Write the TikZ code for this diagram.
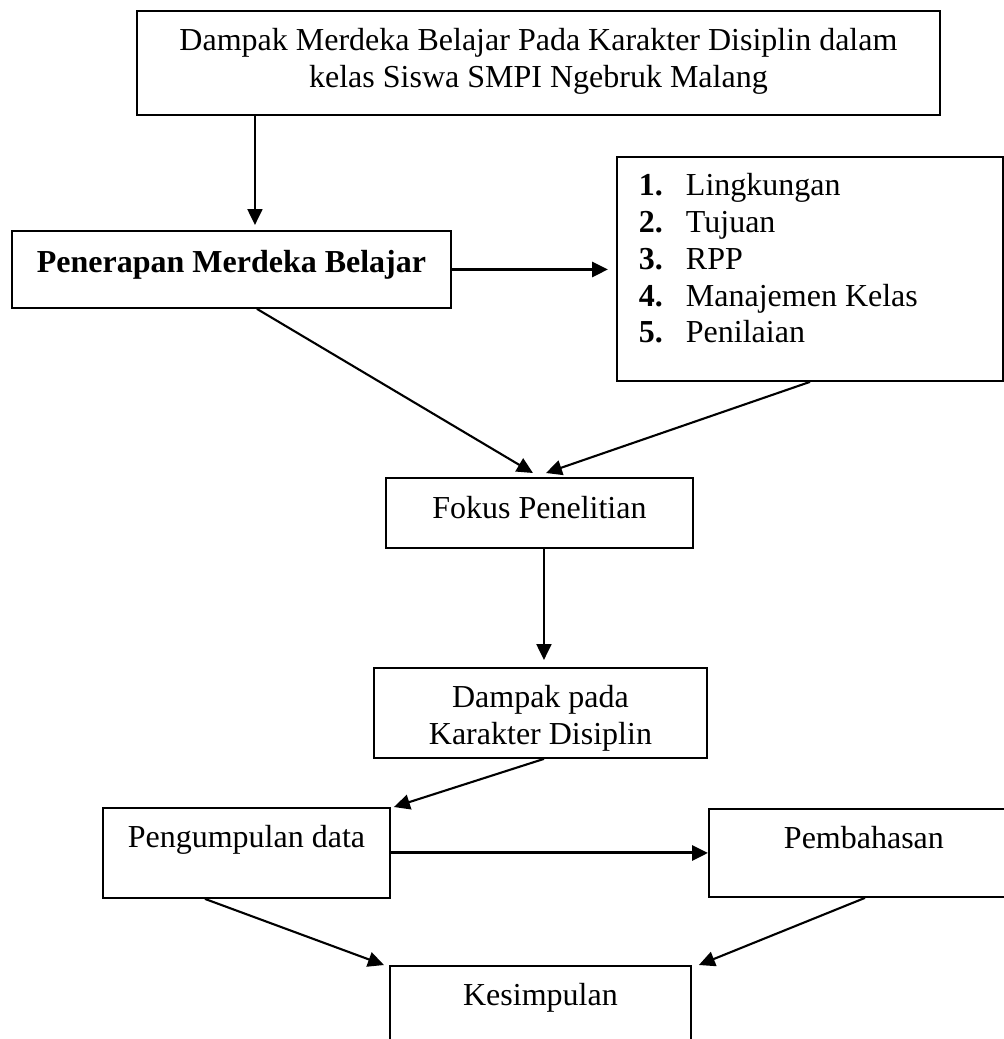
\documentclass[tikz,border=0pt]{standalone}
\usepackage{fontspec}
\setmainfont{Liberation Serif}
\usetikzlibrary{arrows.meta}
\newcommand{\isi}[4]{\parbox[c][#2][t]{#1}{\fontsize{32}{37}\selectfont\centering\rule{0pt}{#3}#4}}
\newcommand{\butir}[2]{\hspace*{22pt}\makebox[47pt][l]{\textbf{#1.}}#2}

\begin{document}
\begin{tikzpicture}[x=1pt,y=-1pt,
   kotak/.style={draw,line width=1.9pt,inner sep=0pt,anchor=north west},
   panah/.style={-{Triangle[length=16pt,width=15pt]},line width=2.1pt},
   tebal/.style={panah,line width=3pt}]
   \useasboundingbox (0,0) rectangle (1004,1039);
   \node[kotak] (judul)  at (136,10)  {\isi{803pt}{104pt}{40pt}{Dampak Merdeka Belajar Pada Karakter Disiplin dalam\\ kelas Siswa SMPI Ngebruk Malang}};
   \node[kotak] (terap)  at (11,230)  {\isi{439pt}{77pt}{42pt}{\textbf{Penerapan Merdeka Belajar}}};
   \node[kotak] (daftar) at (616,156) {\parbox[c][224pt][t]{386pt}{\fontsize{32}{36.7}\selectfont\rule{0pt}{39pt}%
      \butir{1}{Lingkungan}\\ \butir{2}{Tujuan}\\ \butir{3}{RPP}\\ \butir{4}{Manajemen Kelas}\\ \butir{5}{Penilaian}}};
   \node[kotak] (fokus)  at (385,477) {\isi{307pt}{70pt}{41pt}{Fokus Penelitian}};
   \node[kotak] (dampak) at (373,667) {\isi{333pt}{90pt}{40pt}{Dampak pada\\ Karakter Disiplin}};
   \node[kotak] (kumpul) at (102,807) {\isi{287pt}{90pt}{40pt}{Pengumpulan data}};
   \node[kotak] (bahas)  at (708,808) {\isi{310pt}{88pt}{40pt}{Pembahasan}};
   \node[kotak] (simpul) at (389,965) {\isi{301pt}{90pt}{40pt}{Kesimpulan}};

   \draw[panah] ([xshift=-283.5pt]judul.south) -- ([xshift=23.5pt,yshift=5pt]terap.north);
   \draw[tebal] (terap.east) -- ([xshift=-8pt]terap.east -| daftar.west);
   \draw[panah] ([xshift=25.5pt]terap.south) -- ([xshift=-6.5pt,yshift=4pt]fokus.north);
   \draw[panah] (daftar.south) -- ([xshift=6.5pt,yshift=4pt]fokus.north);
   \draw[panah] ([xshift=4.5pt]fokus.south) -- ([xshift=3.5pt,yshift=7pt]dampak.north);
   \draw[panah] ([xshift=3.5pt]dampak.south) -- ([xshift=3pt]kumpul.north east);
   \draw[tebal] (kumpul.east) -- (kumpul.east -| bahas.west);
   \draw[panah] ([xshift=-41.5pt]kumpul.south) -- ([xshift=-5pt]simpul.north west);
   \draw[panah] ([xshift=1pt]bahas.south) -- ([xshift=7pt]simpul.north east);
\end{tikzpicture}
\end{document}
